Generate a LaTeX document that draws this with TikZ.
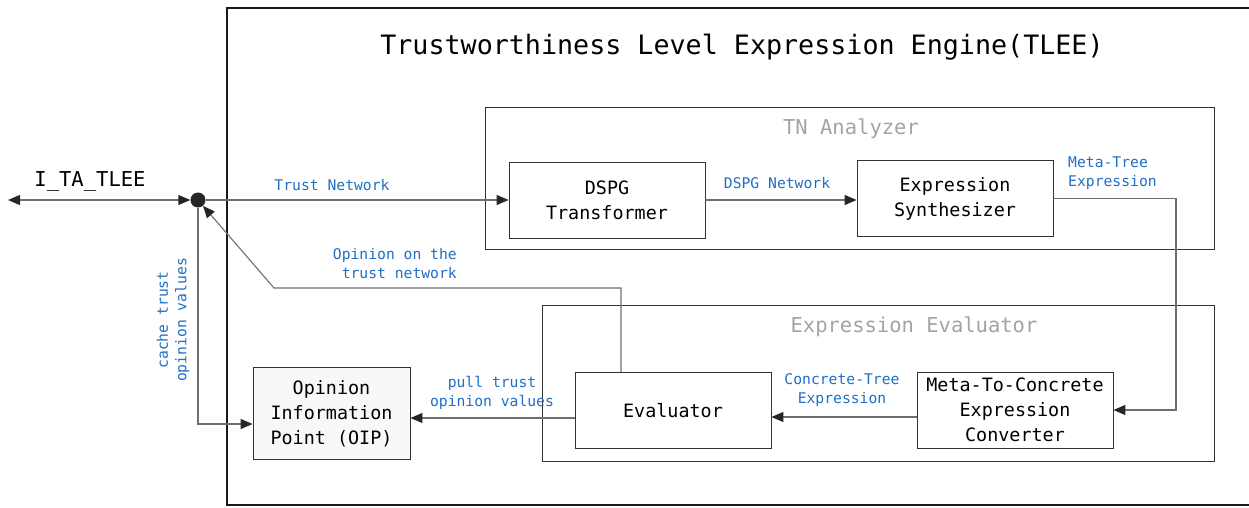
\documentclass[tikz,border=0pt]{standalone}
\usepackage{fontspec}
\setmainfont{DejaVu Sans Mono}
\usetikzlibrary{arrows.meta}
\definecolor{lbl}{HTML}{1F6FC5}
\definecolor{grp}{HTML}{A3A3A3}
\definecolor{edge}{HTML}{333333}
\definecolor{wirec}{HTML}{6E6E6E}
\definecolor{oipfill}{HTML}{F6F8FA}

\begin{document}
\begin{tikzpicture}[x=1pt,y=-1pt,
  tip/.tip={Triangle[length=12pt,width=10pt,color=black!85]},
  block/.style={draw=edge,line width=0.9pt,minimum width=196pt,minimum height=76pt,
    align=center,inner sep=0pt,font=\fontsize{18.4}{25}\selectfont},
  group/.style={draw=edge,line width=0.9pt},
  grouplbl/.style={text=grp,inner sep=0pt,font=\fontsize{20.5}{24}\selectfont},
  lab/.style={text=lbl,inner sep=0pt,align=center,font=\fontsize{14.7}{18.5}\selectfont},
  wire/.style={draw=wirec,line width=1.1pt,-tip}
]
\useasboundingbox (0,0) rectangle (1249,507);

% engine frame (open on the right)
\draw[line width=1.4pt,black!90] (1255,8) -- (227,8) -- (227,505) -- (1255,505);
\node[inner sep=0pt,font=\fontsize{26.7}{30}\selectfont] (title) at (742,47)
  {Trustworthiness Level Expression Engine(TLEE)};

% sub-component groups
\draw[group] (485,107) rectangle (1214,249);
\node[grouplbl] (tnlbl) at (851,129) {TN Analyzer};
\draw[group] (542,305) rectangle (1214,461);
\node[grouplbl] (evlbl) at (914,327) {Expression Evaluator};

% blocks
\node[block] (dspg) at (607,200) {DSPG\\Transformer};
\node[block] (es) at (955,198.5) {Expression\\Synthesizer};
\node[block] (eval) at (673,410.5) {Evaluator};
\node[block] (conv) at (1015,410) {Meta-To-Concrete\\Expression\\Converter};
\node[block,fill=oipfill,minimum width=157pt,minimum height=92pt] (oip) at (331.5,413.5)
  {Opinion\\Information\\Point (OIP)};

% interface port
\node[circle,fill=black!85,minimum size=15pt,inner sep=0pt] (dot) at (198,200) {};
\coordinate (ext) at (8,200);
\node[inner sep=0pt,font=\fontsize{20.5}{24}\selectfont] (iface) at (90,181.5) {I\_TA\_TLEE};

% helper levels
\coordinate (ycon) at (0,417);
\coordinate (ypull) at (0,418);
\coordinate (ycache) at (0,424);
\coordinate (opbend) at (274,288);
\coordinate (mtx) at (1176,0);

% connectors
\draw[draw=wirec,line width=1.1pt,tip-tip] (ext) -- (dot);
\draw[wire] (dot) -- (dspg.west);
\draw[wire] (dspg.east) -- (es.west |- dspg.east);
\draw[wire] (es.east) -- (mtx |- es.east) |- (conv.east);
\draw[wire] (conv.west |- ycon) -- (eval.east |- ycon);
\draw[wire] (eval.west |- ypull) -- (oip.east |- ypull);
\draw[wire] ([xshift=-52pt]eval.north) |- (opbend) -- (dot);
\draw[wire] (dot.south) |- (oip.west |- ycache);

% connector labels
\node[lab] (ltn) at (332,185) {Trust Network};
\node[lab] (ldn) at (777,183) {DSPG Network};
\node[lab,align=left,anchor=west] (lmt) at (1068,173) {Meta-Tree\\Expression};
\node[lab] (lct) at (842,390) {Concrete-Tree\\Expression};
\node[lab] (lpull) at (492,393) {pull trust\\opinion values};
\node[lab,align=right,anchor=east] (lop) at (457,263.5) {Opinion on the\\trust network};
\node[lab,rotate=90] (lcache) at (173,320) {cache trust\\opinion values};
\end{tikzpicture}
\end{document}
